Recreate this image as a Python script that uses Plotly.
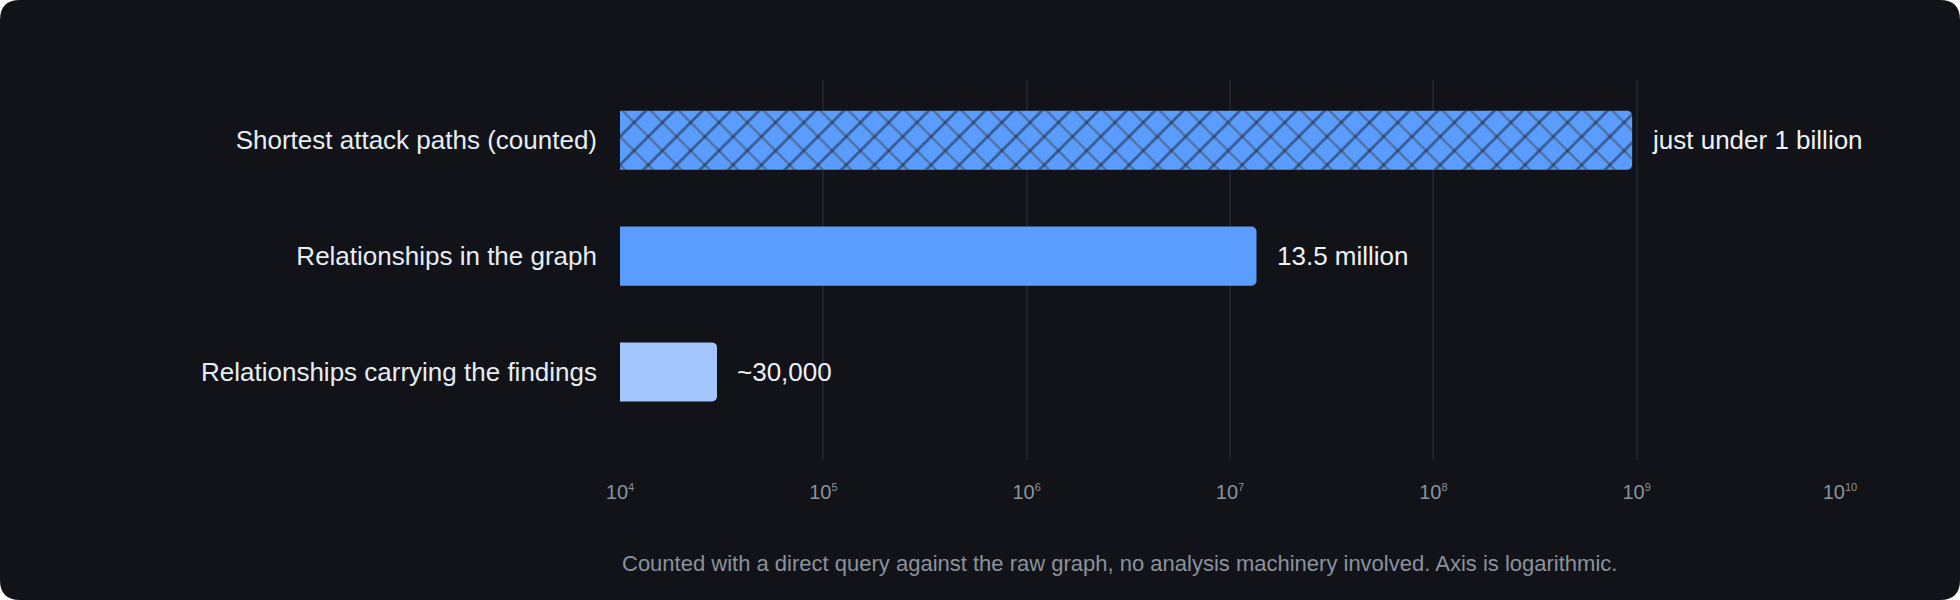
import numpy as np
import plotly.graph_objects as go

# Data
categories = [
    "Shortest attack paths (counted)",
    "Relationships in the graph",
    "Relationships carrying the findings",
]
values = [9.5e8, 1.35e7, 3.0e4]
value_labels = ["just under 1 billion", "13.5 million", "~30,000"]
bar_colors = ["#5b9dff", "#5b9dff", "#a3c6ff"]
tick_vals = [1e4, 1e5, 1e6, 1e7, 1e8, 1e9, 1e10]
tick_exps = ["4", "5", "6", "7", "8", "9", "10"]
note = ("Counted with a direct query against the raw graph, "
        "no analysis machinery involved. Axis is logarithmic.")

# Layout geometry (px)
W, H = 1960, 600
ML, MR, MT, MB = 620, 120, 80, 140
CARD = "#111318"
RADIUS = 20


def px_x(px):
    return (px - ML) / (W - ML - MR)


def px_y(py):
    return (H - MB - py) / (H - MT - MB)


# rounded card behind everything
r = RADIUS
card_path = (
    f"M {px_x(r)},{px_y(0)} L {px_x(W - r)},{px_y(0)} "
    f"Q {px_x(W)},{px_y(0)} {px_x(W)},{px_y(r)} "
    f"L {px_x(W)},{px_y(H - r)} "
    f"Q {px_x(W)},{px_y(H)} {px_x(W - r)},{px_y(H)} "
    f"L {px_x(r)},{px_y(H)} "
    f"Q {px_x(0)},{px_y(H)} {px_x(0)},{px_y(H - r)} "
    f"L {px_x(0)},{px_y(r)} "
    f"Q {px_x(0)},{px_y(0)} {px_x(r)},{px_y(0)} Z"
)

tick_text = [f"10<sup><span style='font-size:11px'>{e}</span></sup>" for e in tick_exps]

fig = go.Figure()

# main bars, first one carries the lighter "\" hatch
fig.add_trace(
    go.Bar(
        y=categories,
        x=values,
        orientation="h",
        marker=dict(
            color=bar_colors,
            cornerradius=5,
            line=dict(width=0),
            pattern=dict(
                shape=["\\", "", ""],
                fgcolor="#34548a",
                size=20,
                solidity=0.12,
                fillmode="overlay",
            ),
        ),
        hovertemplate="%{y}: %{x:,.0f}<extra></extra>",
        showlegend=False,
    )
)

# darker "/" hatch over the counted bar
fig.add_trace(
    go.Bar(
        y=categories[:1],
        x=values[:1],
        orientation="h",
        marker=dict(
            color="rgba(0,0,0,0)",
            cornerradius=5,
            line=dict(width=0),
            pattern=dict(
                shape="/",
                fgcolor="#131a28",
                bgcolor="rgba(0,0,0,0)",
                size=20,
                solidity=0.14,
                fillmode="overlay",
            ),
        ),
        hoverinfo="skip",
        showlegend=False,
    )
)

# value labels to the right of each bar
for cat, v, lab in zip(categories, values, value_labels):
    fig.add_annotation(
        x=np.log10(v),
        y=cat,
        text=lab,
        showarrow=False,
        xanchor="left",
        xshift=18,
        font=dict(size=26, color="#eef1f5"),
    )

fig.add_annotation(
    xref="paper",
    yref="paper",
    x=0,
    y=px_y(563),
    text=note,
    showarrow=False,
    xanchor="left",
    yanchor="middle",
    font=dict(size=22, color="#8b929c"),
)

fig.add_shape(
    type="path",
    path=card_path,
    xref="paper",
    yref="paper",
    fillcolor=CARD,
    line=dict(width=0),
    layer="below",
)

fig.update_xaxes(
    type="log",
    range=[4, 10],
    tickvals=tick_vals,
    ticktext=tick_text,
    showgrid=True,
    gridcolor="#1f2228",
    gridwidth=2,
    zeroline=False,
    showline=False,
    ticks="",
    ticklabelstandoff=18,
    tickfont=dict(size=20, color="#8b929c"),
)
fig.update_yaxes(
    range=[2.76, -0.52],
    showgrid=False,
    zeroline=False,
    showline=False,
    ticks="",
    ticklabelstandoff=22,
    tickfont=dict(size=26, color="#e6edf3"),
)

fig.update_layout(
    width=W,
    height=H,
    margin=dict(l=ML, r=MR, t=MT, b=MB),
    paper_bgcolor="#ffffff",
    plot_bgcolor="rgba(0,0,0,0)",
    barmode="overlay",
    bargap=0.49,
    font=dict(family="Liberation Sans, Arial, sans-serif"),
)

fig.write_html(
    "out.html",
    config={"displayModeBar": False},
    post_script="document.body.style.margin='0';document.body.style.overflow='hidden';",
)
